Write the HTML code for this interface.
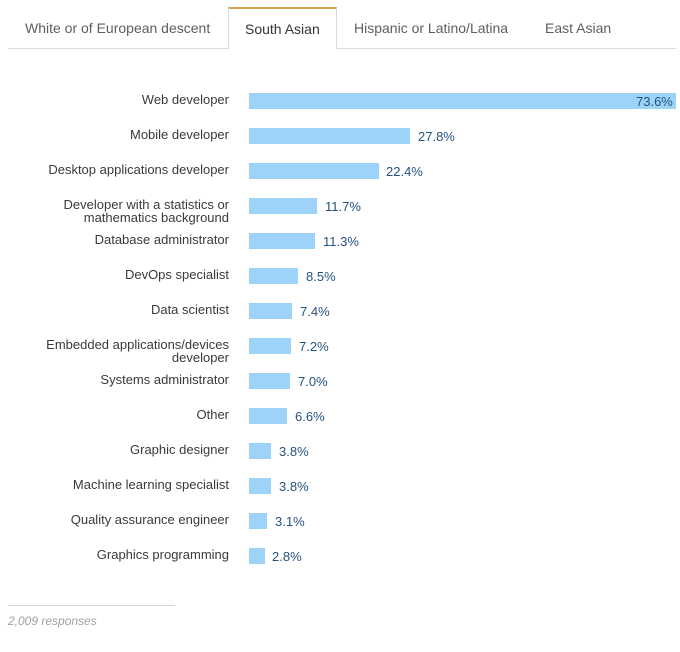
<!DOCTYPE html>
<html><head><meta charset="utf-8">
<style>
html,body{margin:0;padding:0;background:#fff;}
body{width:680px;height:652px;position:relative;overflow:hidden;font-family:"Liberation Sans",Arial,sans-serif;}
.tabline{position:absolute;left:8px;top:48px;width:668px;height:1px;background:#dcdcdc;}
.tab{position:absolute;top:7px;height:42px;line-height:42px;font-size:14px;color:#5e5e5e;white-space:nowrap;}
.tab.active{background:#fff;border-left:1px solid #dcdcdc;border-right:1px solid #dcdcdc;border-top:2px solid #d9a84e;height:42px;top:7px;color:#333;box-sizing:border-box;line-height:40px;}
.lbl{position:absolute;right:451px;width:220px;text-align:right;font-size:13px;line-height:13px;color:#3a3a3a;}
.bar{position:absolute;left:249px;height:15.5px;background:#9dd3f8;}
.val{position:absolute;font-size:13px;line-height:14px;color:#24527f;white-space:nowrap;}
.foot{position:absolute;left:8px;top:605px;width:167px;height:1px;background:#d6d6d6;}
.resp{position:absolute;left:8px;top:614px;font-size:12px;font-style:italic;color:#a0a0a0;}
</style></head><body>
<div class="tabline"></div>
<div class="tab" style="left:25px;">White or of European descent</div>
<div class="tab active" style="left:228px;width:109px;padding-left:16px;">South Asian</div>
<div class="tab" style="left:354px;">Hispanic or Latino/Latina</div>
<div class="tab" style="left:545px;">East Asian</div>

<div class="lbl" style="top:93px;">Web developer</div>
<div class="bar" style="top:93px;width:427px;"></div>
<div class="val" style="top:94.5px;left:636px;">73.6%</div>

<div class="lbl" style="top:128px;">Mobile developer</div>
<div class="bar" style="top:128px;width:161px;"></div>
<div class="val" style="top:130px;left:418px;">27.8%</div>

<div class="lbl" style="top:163px;">Desktop applications developer</div>
<div class="bar" style="top:163px;width:130px;"></div>
<div class="val" style="top:165px;left:386px;">22.4%</div>

<div class="lbl" style="top:198px;">Developer with a statistics or<br>mathematics background</div>
<div class="bar" style="top:198px;width:68px;"></div>
<div class="val" style="top:200px;left:325px;">11.7%</div>

<div class="lbl" style="top:233px;">Database administrator</div>
<div class="bar" style="top:233px;width:66px;"></div>
<div class="val" style="top:235px;left:323px;">11.3%</div>

<div class="lbl" style="top:268px;">DevOps specialist</div>
<div class="bar" style="top:268px;width:49px;"></div>
<div class="val" style="top:270px;left:306px;">8.5%</div>

<div class="lbl" style="top:303px;">Data scientist</div>
<div class="bar" style="top:303px;width:43px;"></div>
<div class="val" style="top:305px;left:300px;">7.4%</div>

<div class="lbl" style="top:338px;">Embedded applications/devices<br>developer</div>
<div class="bar" style="top:338px;width:42px;"></div>
<div class="val" style="top:340px;left:299px;">7.2%</div>

<div class="lbl" style="top:373px;">Systems administrator</div>
<div class="bar" style="top:373px;width:41px;"></div>
<div class="val" style="top:375px;left:298px;">7.0%</div>

<div class="lbl" style="top:408px;">Other</div>
<div class="bar" style="top:408px;width:38px;"></div>
<div class="val" style="top:410px;left:295px;">6.6%</div>

<div class="lbl" style="top:443px;">Graphic designer</div>
<div class="bar" style="top:443px;width:22px;"></div>
<div class="val" style="top:445px;left:279px;">3.8%</div>

<div class="lbl" style="top:478px;">Machine learning specialist</div>
<div class="bar" style="top:478px;width:22px;"></div>
<div class="val" style="top:480px;left:279px;">3.8%</div>

<div class="lbl" style="top:513px;">Quality assurance engineer</div>
<div class="bar" style="top:513px;width:18px;"></div>
<div class="val" style="top:515px;left:275px;">3.1%</div>

<div class="lbl" style="top:548px;">Graphics programming</div>
<div class="bar" style="top:548px;width:16px;"></div>
<div class="val" style="top:550px;left:272px;">2.8%</div>

<div class="foot"></div>
<div class="resp">2,009 responses</div>
</body></html>
